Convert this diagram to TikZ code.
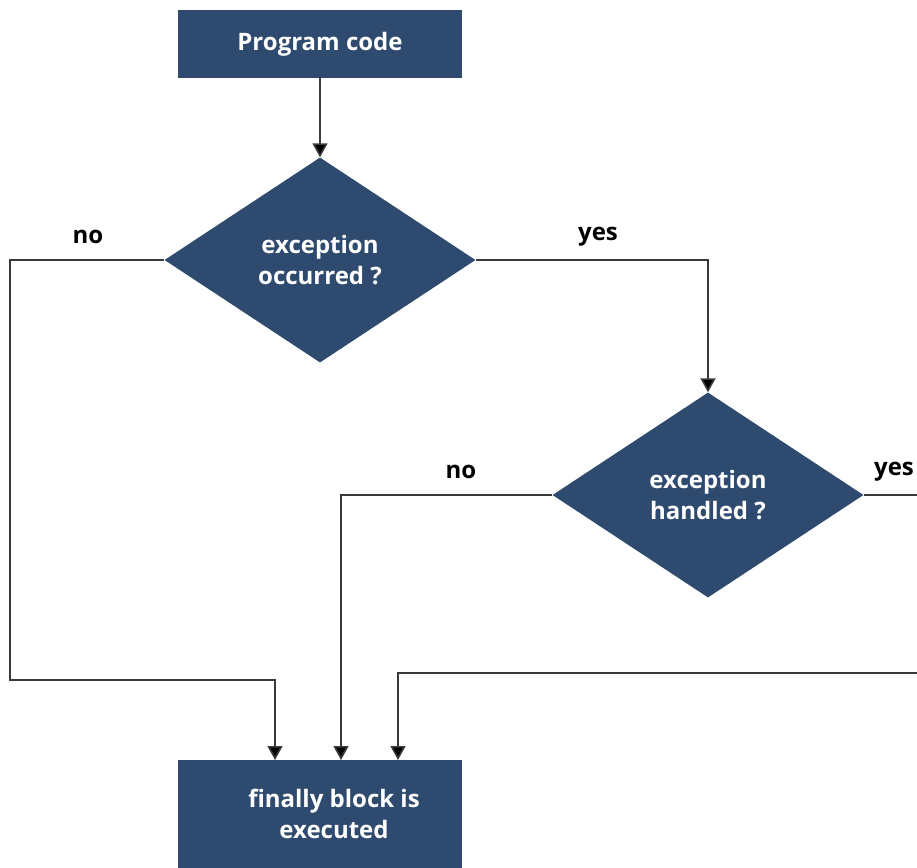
\documentclass[tikz,border=0pt]{standalone}
\usepackage{fontspec}
\setmainfont{Open Sans}
\usetikzlibrary{shapes.geometric,arrows.meta}
\definecolor{boxblue}{HTML}{2E4A6E}
\definecolor{linegray}{HTML}{3A3A3A}
\tikzset{
  blk/.style={draw=none,text=white,font=\fontsize{24}{31}\selectfont\bfseries,inner sep=0pt,align=center},
  dia/.style={diamond,draw=none,fill=boxblue,text=white,font=\fontsize{24}{31}\selectfont\bfseries,inner sep=0pt,align=center,minimum width=311pt,minimum height=205pt},
  conn/.style={draw=linegray,line width=1.6pt,-{Triangle[length=14pt,width=15pt,fill=black]}},
  plain/.style={draw=linegray,line width=1.6pt},
  lbl/.style={font=\fontsize{24}{28}\selectfont\bfseries,text=black,inner sep=0pt}
}
\begin{document}
\begin{tikzpicture}[x=1pt,y=-1pt]
\useasboundingbox (0,0) rectangle (917,867);
\clip (0,0) rectangle (917,867);
% boxes
\node[blk,fill=boxblue,minimum width=284pt,minimum height=68pt] (pc) at (320,44) {Program code};
\node[dia] (d1) at (320,260) {exception\\occurred ?};
\node[dia] (d2) at (708,495) {exception\\handled ?};
\node[blk,minimum width=284pt,minimum height=120pt,fill=boxblue,anchor=north] (fin) at (320,760) {};
\node[blk] (fint) at (334,814) {finally block is\\executed};
% coordinates
\coordinate (l1) at (10,260);
\coordinate (l2) at (10,680);
\coordinate (l3) at (275,680);
\coordinate (t1) at (275,760);
\coordinate (m1) at (341,495);
\coordinate (t2) at (341,760);
\coordinate (r0) at (930,673);
\coordinate (r1) at (398,673);
\coordinate (t3) at (398,760);
\coordinate (y1) at (708,260);
\coordinate (y2) at (930,495);
% connectors
\draw[conn] (pc.south) -- (d1.north);
\draw[conn] (d1.west) -- (l1) -- (l2) -- (l3) -- (t1);
\draw[conn] (d1.east) -- (y1) -- (d2.north);
\draw[conn] (d2.west) -- (m1) -- (t2);
\draw[plain] (d2.east) -- (y2);
\draw[conn] (r0) -- (r1) -- (t3);
% labels
\node[lbl] (n1) at (88,237) {no};
\node[lbl] (y1l) at (598,237) {yes};
\node[lbl] (n2) at (461,472) {no};
\node[lbl] (y2l) at (894,472) {yes};
\end{tikzpicture}
\end{document}
